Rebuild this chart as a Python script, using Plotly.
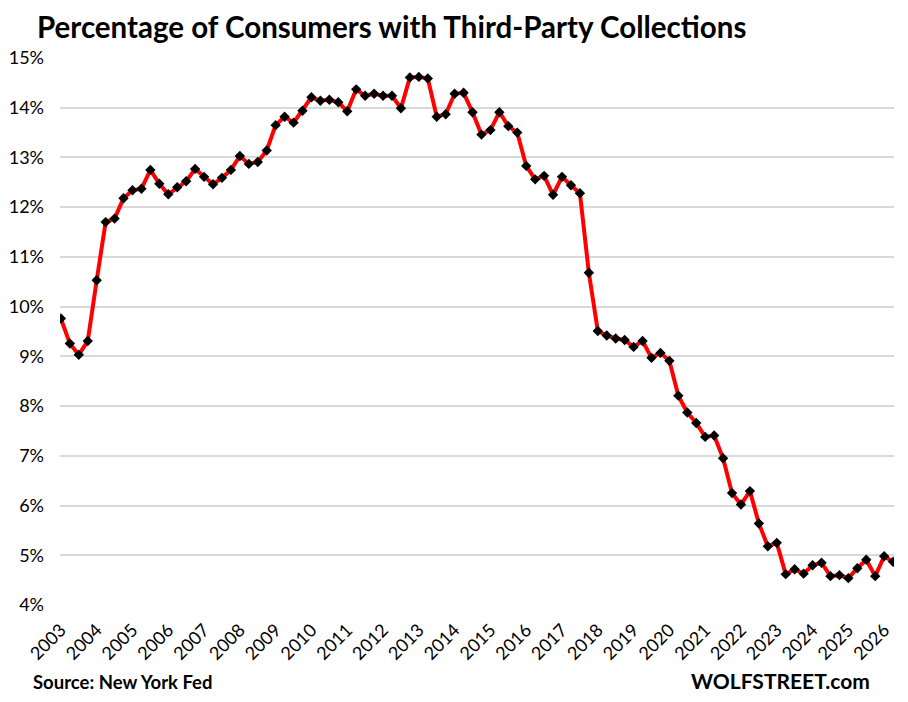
import plotly.graph_objects as go

# quarterly, 2003 Q1 .. 2026 Q2
QUARTERS = [f"{y}Q{q}" for y in range(2003, 2027) for q in range(1, 5)][:94]

PCT_COLLECTIONS = [
    9.76, 9.26, 9.03, 9.31, 10.53, 11.70, 11.77, 12.18, 12.34, 12.37,
    12.75, 12.47, 12.26, 12.40, 12.52, 12.77, 12.61, 12.46, 12.59, 12.75,
    13.03, 12.87, 12.91, 13.14, 13.65, 13.82, 13.70, 13.94, 14.21, 14.14,
    14.16, 14.11, 13.93, 14.37, 14.24, 14.28, 14.24, 14.24, 13.99, 14.61,
    14.62, 14.59, 13.82, 13.87, 14.28, 14.30, 13.91, 13.46, 13.55, 13.91,
    13.63, 13.50, 12.83, 12.56, 12.63, 12.25, 12.61, 12.44, 12.28, 10.68,
    9.51, 9.42, 9.36, 9.33, 9.19, 9.31, 8.97, 9.07, 8.91, 8.21,
    7.87, 7.66, 7.38, 7.41, 6.95, 6.25, 6.02, 6.29, 5.64, 5.18,
    5.25, 4.62, 4.72, 4.63, 4.80, 4.85, 4.58, 4.60, 4.54, 4.74,
    4.91, 4.58, 4.98, 4.87,
]

YEAR_TICKS = [q for q in QUARTERS if q.endswith("Q1")]
YEAR_LABELS = [q[:4] for q in YEAR_TICKS]
Y_TICKS = list(range(4, 16))

FONT = "Lato"

# page body has an 8px margin, so the figure is drawn 16px smaller than the window
FIG_W = 892
FIG_H = 686
PLOT_L, PLOT_R, PLOT_T, PLOT_B = 52, 886, 50, 597
PLOT_W = PLOT_R - PLOT_L
PLOT_H = PLOT_B - PLOT_T

fig = go.Figure()
fig.add_trace(
    go.Scatter(
        x=QUARTERS,
        y=PCT_COLLECTIONS,
        mode="lines+markers",
        line=dict(color="#ff0000", width=4),
        marker=dict(symbol="diamond", size=8, color="black"),
        hoverinfo="x+y",
    )
)

fig.update_layout(
    width=FIG_W,
    height=FIG_H,
    margin=dict(l=PLOT_L, r=FIG_W - PLOT_R, t=PLOT_T, b=FIG_H - PLOT_B),
    paper_bgcolor="white",
    plot_bgcolor="white",
    showlegend=False,
    font=dict(family=FONT, color="black"),
    title=dict(
        text="<b>Percentage of Consumers with Third-Party Collections</b>",
        font=dict(family=FONT, size=29.5, color="black"),
        xref="container",
        yref="container",
        x=29 / FIG_W,
        xanchor="left",
        y=1 - 20 / FIG_H,
        yanchor="middle",
    ),
)

fig.update_xaxes(
    type="category",
    range=[-0.1, 93.1],
    tickvals=YEAR_TICKS,
    ticktext=YEAR_LABELS,
    tickangle=-45,
    tickfont=dict(family=FONT, size=18, color="black"),
    ticklabelstandoff=10,
    showgrid=False,
    showline=False,
    zeroline=False,
    ticks="",
    automargin=False,
)

fig.update_yaxes(
    range=[4, 15],
    tickvals=Y_TICKS,
    ticktext=[f"{v}%" for v in Y_TICKS],
    tickfont=dict(family=FONT, size=18, color="black"),
    showgrid=True,
    gridcolor="#d9d9d9",
    gridwidth=1.5,
    zeroline=False,
    showline=False,
    ticklabelstandoff=15,
    automargin=False,
)

fig.add_annotation(
    text="<b>Source: New York Fed</b>",
    xref="paper", yref="paper",
    x=(23 - PLOT_L) / PLOT_W, y=(PLOT_B - 674) / PLOT_H,
    xanchor="left", yanchor="middle",
    showarrow=False,
    font=dict(family=FONT, size=18.5, color="black"),
)
fig.add_annotation(
    text="<b>WOLFSTREET.com</b>",
    xref="paper", yref="paper",
    x=(864 - PLOT_L) / PLOT_W, y=(PLOT_B - 672) / PLOT_H,
    xanchor="right", yanchor="middle",
    showarrow=False,
    font=dict(family=FONT, size=21, color="black"),
)

fig.write_html("out.html")
